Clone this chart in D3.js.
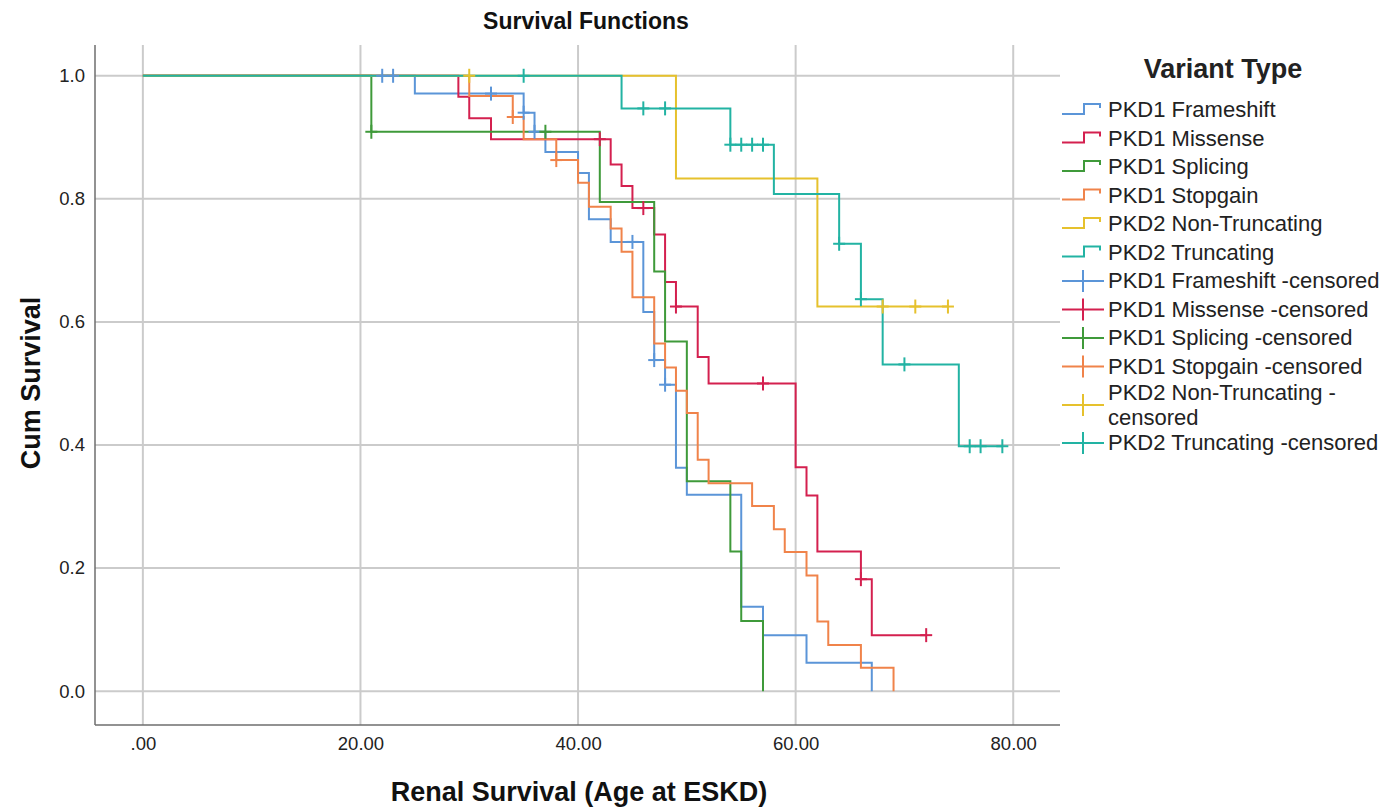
<!DOCTYPE html>
<html>
<head>
<meta charset="utf-8">
<script src="https://cdn.jsdelivr.net/npm/d3@7"></script>
<style>
  body { margin: 0; background: #fff; }
  svg { font-family: "Liberation Sans", Arial, sans-serif; }
  .grid line { stroke: #cbcbcb; stroke-width: 2; }
  .axis path, .axis line { stroke: #6e6e6e; stroke-width: 1.5; }
  .axis text { fill: #222; font-size: 18.5px; }
  .curve { fill: none; stroke-width: 2; }
  .legend text { font-size: 22px; fill: #222; }
</style>
</head>
<body>
<svg width="1397" height="811"></svg>
<script>
// series names and colours
var seriesNames = ["PKD1 Frameshift", "PKD1 Missense", "PKD1 Splicing", "PKD1 Stopgain", "PKD2 Non-Truncating", "PKD2 Truncating"];
var seriesColors = ["#5b95d8", "#d4204f", "#3f9a3a", "#f0834a", "#e6c12d", "#22b3a3"];

// step points [age, cum survival]
var frameshiftSteps = [[0,1],[25,0.971],[35,0.940],[36,0.909],[37,0.876],[40,0.842],[41,0.767],[43,0.730],[46,0.616],[47,0.538],[48,0.498],[49,0.363],[50,0.319],[55,0.137],[57,0.091],[61,0.046],[67,0]];
var missenseSteps = [[0,1],[29,0.966],[30,0.931],[32,0.897],[43,0.856],[44,0.821],[45,0.785],[47,0.742],[48,0.665],[49,0.625],[51,0.543],[52,0.500],[60,0.364],[61,0.318],[62,0.227],[66,0.182],[67,0.091]];
var splicingSteps = [[0,1],[21,0.909],[42,0.795],[47,0.682],[48,0.568],[50,0.341],[54,0.227],[55,0.114],[57,0]];
var stopgainSteps = [[0,1],[30,0.967],[34,0.933],[35,0.897],[38,0.863],[40,0.826],[41,0.787],[43,0.752],[44,0.714],[45,0.640],[47,0.565],[48,0.526],[49,0.488],[50,0.452],[51,0.376],[52,0.338],[56,0.301],[58,0.263],[59,0.226],[61,0.188],[62,0.113],[63,0.075],[66,0.038],[69,0]];
var nonTruncSteps = [[0,1],[49,0.833],[62,0.625]];
var truncSteps = [[0,1],[44,0.947],[54,0.888],[58,0.808],[64,0.727],[66,0.637],[68,0.531],[75,0.398]];

// censored cases
var frameshiftCensored = [[22,1],[23,1],[32,0.971],[35,0.940],[36,0.909],[45,0.730],[47,0.538],[48,0.498]];
var missenseCensored = [[42,0.897],[46,0.785],[49,0.625],[57,0.500],[66,0.182],[72,0.091]];
var splicingCensored = [[21,0.909],[37,0.909]];
var stopgainCensored = [[34,0.933],[38,0.863]];
var nonTruncCensored = [[30,1],[68,0.625],[71,0.625],[74,0.625]];
var truncCensored = [[35,1],[46,0.947],[48,0.947],[54,0.888],[55,0.888],[56,0.888],[57,0.888],[64,0.727],[66,0.637],[70,0.531],[76,0.398],[77,0.398],[79,0.398]];

var allSteps = [frameshiftSteps, missenseSteps, splicingSteps, stopgainSteps, nonTruncSteps, truncSteps];
var allCensored = [frameshiftCensored, missenseCensored, splicingCensored, stopgainCensored, nonTruncCensored, truncCensored];

var xTicks = [0, 20, 40, 60, 80];
var yTicks = [0, 0.2, 0.4, 0.6, 0.8, 1.0];

var svg = d3.select("svg");

var x = d3.scaleLinear().domain([-4.4, 84.3]).range([95, 1060]);
var y = d3.scaleLinear().domain([-0.055, 1.05]).range([725, 45]);

// grid
var grid = svg.append("g").attr("class", "grid");
grid.selectAll(".gx").data(xTicks).enter().append("line")
    .attr("x1", function(d) { return x(d); }).attr("x2", function(d) { return x(d); })
    .attr("y1", y.range()[1]).attr("y2", y.range()[0]);
grid.selectAll(".gy").data(yTicks).enter().append("line")
    .attr("x1", x.range()[0]).attr("x2", x.range()[1])
    .attr("y1", function(d) { return y(d); }).attr("y2", function(d) { return y(d); });

// axes
svg.append("g")
    .attr("class", "axis")
    .attr("transform", "translate(0," + y.range()[0] + ")")
    .call(d3.axisBottom(x).tickValues(xTicks).tickSize(0).tickPadding(12)
        .tickFormat(function(d) { return d3.format(".2f")(d).replace(/^0\./, "."); }));

svg.append("g")
    .attr("class", "axis")
    .attr("transform", "translate(" + x.range()[0] + ",0)")
    .call(d3.axisLeft(y).tickValues(yTicks).tickSize(0).tickPadding(10).tickFormat(d3.format(".1f")));

svg.selectAll(".axis .domain").attr("d", null);
svg.append("line").attr("x1", x.range()[0]).attr("x2", x.range()[0])
    .attr("y1", y.range()[1]).attr("y2", y.range()[0])
    .attr("stroke", "#6e6e6e").attr("stroke-width", 1.5);
svg.append("line").attr("x1", x.range()[0]).attr("x2", x.range()[1])
    .attr("y1", y.range()[0]).attr("y2", y.range()[0])
    .attr("stroke", "#6e6e6e").attr("stroke-width", 1.5);

// curves
var line = d3.line()
    .x(function(d) { return x(d[0]); })
    .y(function(d) { return y(d[1]); })
    .curve(d3.curveStepAfter);

allSteps.forEach(function(steps, i) {
    var pts = steps.slice();
    var last = pts[pts.length - 1];
    var lastCens = d3.max(allCensored[i], function(d) { return d[0]; });
    if (last[1] > 0 && lastCens > last[0]) pts.push([lastCens, last[1]]);
    svg.append("path")
        .datum(pts)
        .attr("class", "curve")
        .attr("stroke", seriesColors[i])
        .attr("d", line);
});

// censor marks
allCensored.forEach(function(cens, i) {
    var g = svg.append("g").attr("stroke", seriesColors[i]).attr("stroke-width", 2);
    cens.forEach(function(d) {
        g.append("line").attr("x1", x(d[0])).attr("x2", x(d[0]))
            .attr("y1", y(d[1]) - 7).attr("y2", y(d[1]) + 7);
        g.append("line").attr("x1", x(d[0]) - 6).attr("x2", x(d[0]) + 6)
            .attr("y1", y(d[1])).attr("y2", y(d[1]));
    });
});

// titles
svg.append("text").attr("x", 586).attr("y", 29)
    .attr("text-anchor", "middle").attr("font-weight", "bold").attr("font-size", "23px")
    .attr("fill", "#111").text("Survival Functions");
svg.append("text").attr("x", 579).attr("y", 801)
    .attr("text-anchor", "middle").attr("font-weight", "bold").attr("font-size", "27px")
    .attr("fill", "#111").text("Renal Survival (Age at ESKD)");
svg.append("text").attr("transform", "translate(40,383) rotate(-90)")
    .attr("text-anchor", "middle").attr("font-weight", "bold").attr("font-size", "27px")
    .attr("fill", "#111").text("Cum Survival");

// legend
var legend = svg.append("g").attr("class", "legend");
legend.append("text").attr("x", 1223).attr("y", 78)
    .attr("text-anchor", "middle").attr("font-weight", "bold").style("font-size", "27px")
    .attr("fill", "#111").text("Variant Type");

var legendRows = [110, 138.5, 167, 195.5, 224, 252.5, 281, 309.5, 338, 366.5, 405, 443];
var legendItems = seriesNames.map(function(n, i) { return {name: n, color: seriesColors[i], cens: false}; })
    .concat(seriesNames.map(function(n, i) { return {name: n + " -censored", color: seriesColors[i], cens: true}; }));

legendItems.forEach(function(it, i) {
    var cy = legendRows[i];
    var g = legend.append("g").attr("stroke", it.color).attr("stroke-width", 2).attr("fill", "none");
    if (!it.cens) {
        g.append("path").attr("d", "M1062," + (cy + 4) + "H1084V" + (cy - 6) + "H1100V" + (cy - 2));
    } else {
        g.append("line").attr("x1", 1062).attr("x2", 1104).attr("y1", cy).attr("y2", cy);
        g.append("line").attr("x1", 1083).attr("x2", 1083).attr("y1", cy - 11).attr("y2", cy + 11);
    }
    var t = legend.append("text").attr("x", 1108).attr("y", cy + 7);
    if (it.name === "PKD2 Non-Truncating -censored") {
        t.attr("y", cy - 5).text("PKD2 Non-Truncating -");
        legend.append("text").attr("x", 1108).attr("y", cy + 20).text("censored");
    } else {
        t.text(it.name);
    }
});
</script>
</body>
</html>
